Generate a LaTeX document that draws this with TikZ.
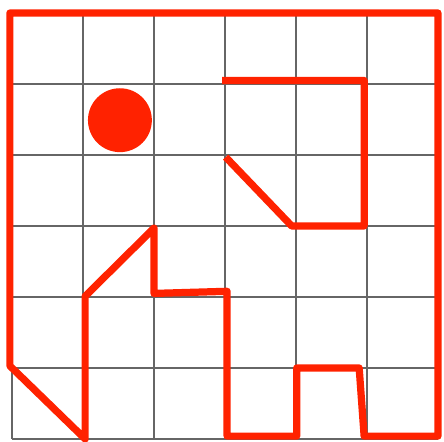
\documentclass[tikz,border=0pt]{standalone}
\usepackage{tikz}
\definecolor{wallred}{RGB}{255,34,0}

\begin{document}
\begin{tikzpicture}[
  gridline/.style={draw=black!60, line width=0.6pt},
  wall/.style={draw=wallred, line width=2.9pt, line join=round},
  ball/.style={circle, fill=wallred, minimum size=9mm, inner sep=0pt}
]
\useasboundingbox (-0.169,-0.042) rectangle (6.085,6.183);
\draw[gridline] (0,0) grid (6,6);
\draw[wall] (-0.03,1.03) -- (-0.03,6) -- (6,6) -- (6,0.04) -- (4.96,0.04)
  -- (4.89,1) -- (4.01,1) -- (4.01,0.04) -- (3.03,0.04) -- (3.03,2.08)
  -- (2,2.05) -- (2,2.97) -- (1.03,2.01) -- (1.03,0) -- cycle;
\draw[wall] (2.96,5.05) -- (4.96,5.05) -- (4.96,3) -- (3.94,3) -- (3.01,3.97);
\node[ball] (goal) at (1.52,4.49) {};
\end{tikzpicture}
\end{document}
